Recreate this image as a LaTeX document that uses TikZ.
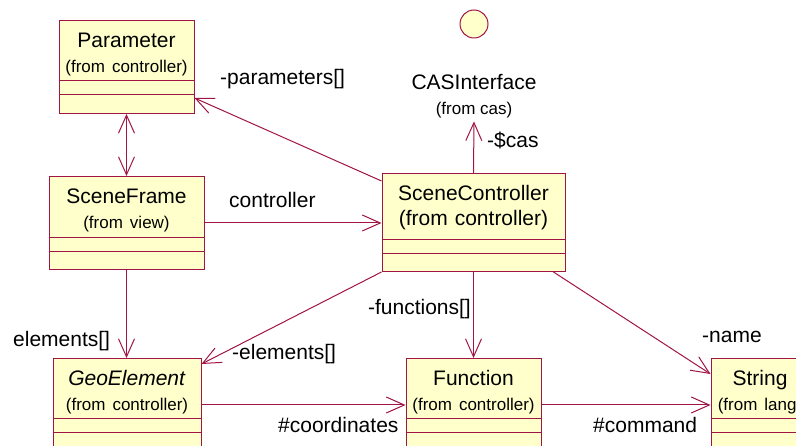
\documentclass[tikz,border=0pt]{standalone}
\usepackage{fontspec}
\setmainfont{Liberation Sans}
\usetikzlibrary{arrows.meta}
\definecolor{umlred}{RGB}{160,20,70}
\definecolor{umlfill}{RGB}{255,255,204}
\newcommand{\subfont}{\fontsize{17}{25}\selectfont}

\begin{document}
\begin{tikzpicture}[
  x=1pt, y=-1pt,
  >={Straight Barb[length=18pt,width=16pt]},
  umlclass/.style = {draw=umlred, fill=umlfill, line width=1pt, inner sep=0pt,
    anchor=north, align=center, font=\fontsize{21}{25}\selectfont,
    text height=27pt, text depth=66pt,
    path picture={\draw[umlred, line width=1pt]
      ([yshift=-#1]path picture bounding box.north west)
        -- ([yshift=-#1]path picture bounding box.north east)
      ([yshift=-#1-14pt]path picture bounding box.north west)
        -- ([yshift=-#1-14pt]path picture bounding box.north east);}},
  umlclass/.default = 60pt,
  umllbl/.style = {inner sep=0pt, font=\fontsize{21}{25}\selectfont},
  assoc/.style = {draw=umlred, line width=1pt, ->}
]
  \useasboundingbox (0,0) rectangle (796,446);
  \clip (0,0) rectangle (796,446);
  % classes
  \node[umlclass, text width=135pt] (param) at (126.5,20)
    {Parameter\\{\subfont (from controller)}};
  \node[umlclass=61pt, text width=155pt] (frame) at (126.5,176)
    {SceneFrame\\{\subfont (from view)}};
  \node[umlclass=66pt, text width=183pt, text depth=71pt] (ctrl) at (473.5,173)
    {SceneController\\(from controller)};
  \node[umlclass, text width=148pt] (geo) at (127,358)
    {\textit{GeoElement}\\{\subfont (from controller)}};
  \node[umlclass, text width=135pt] (func) at (473.5,358)
    {Function\\{\subfont (from controller)}};
  \node[umlclass, text width=98pt] (str) at (760,358)
    {String\\{\subfont (from lang)}};
  % interface
  \node[circle, draw=umlred, fill=umlfill, line width=1pt, minimum size=28pt,
    inner sep=0pt] (casicon) at (474,24) {};
  \node[umllbl, anchor=north, align=center, text height=40pt, text depth=7pt]
    (casname) at (474,74) {CASInterface\\{\subfont (from cas)}};
  % associations
  \draw[assoc, <->] (param.south) -- (frame.north);
  \draw[assoc] ([yshift=-8pt]ctrl.north west) -- ([yshift=-78pt]param.north east);
  \draw[assoc] ([yshift=-47pt]frame.north east)
    -- ([yshift=-47pt]frame.north east -| ctrl.west);
  \draw[assoc] (ctrl.north) -- (casname.south);
  \draw[assoc] (frame.south) -- (frame.south |- geo.north);
  \draw[assoc] (ctrl.south west) -- ([yshift=-6pt]geo.north east);
  \draw[assoc] (ctrl.south) -- (func.north);
  \draw[assoc] ([xshift=-12pt]ctrl.south east) -- ([yshift=-16pt]str.north west);
  \draw[assoc] ([yshift=-47pt]geo.north east) -- ([yshift=-47pt]func.north west);
  \draw[assoc] ([yshift=-47pt]func.north east) -- ([yshift=-47pt]str.north west);
  % role names
  \node[umllbl, anchor=base west] (lparams) at (220,85) {-parameters[]};
  \node[umllbl, anchor=base west] (lctrl) at (229,208) {controller};
  \node[umllbl, anchor=base west] (lcas) at (487,148) {-\$cas};
  \node[umllbl, anchor=base west] (lelems) at (13,347) {elements[]};
  \node[umllbl, anchor=base west] (lelems2) at (232,360) {-elements[]};
  \node[umllbl, anchor=base east] (lfuncs) at (471,315) {-functions[]};
  \node[umllbl, anchor=base west] (lname) at (702,343) {-name};
  \node[umllbl, anchor=base west] (lcoords) at (278,433) {\#coordinates};
  \node[umllbl, anchor=base west] (lcmd) at (593,433) {\#command};
\end{tikzpicture}
\end{document}
